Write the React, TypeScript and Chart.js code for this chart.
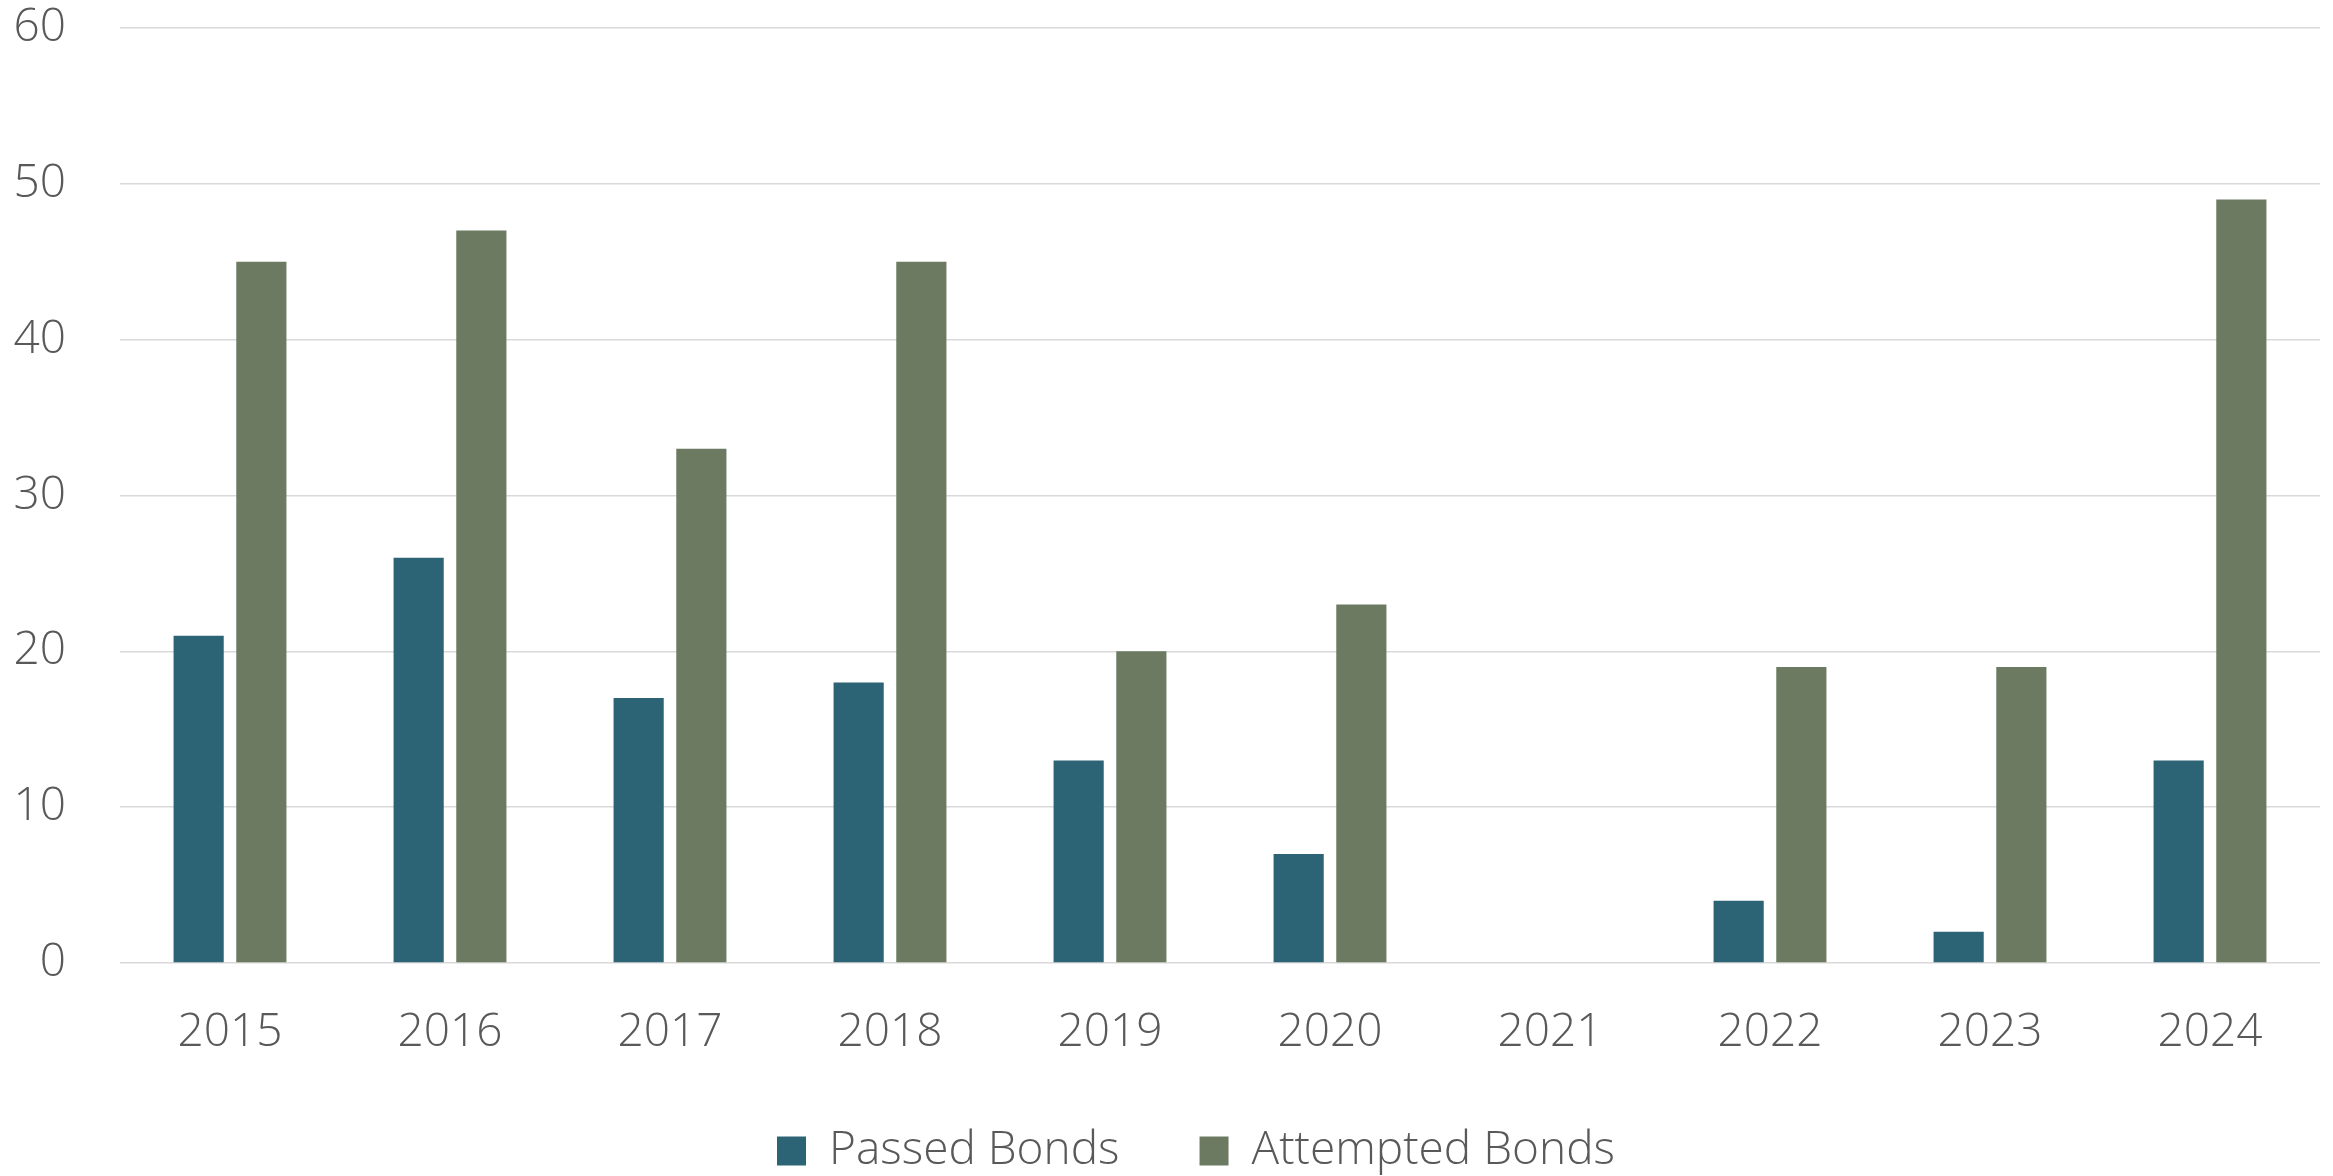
import React, { useEffect, useRef } from "react";
import { Chart, registerables } from "chart.js";

Chart.register(...registerables);

const categories = ["2015", "2016", "2017", "2018", "2019", "2020", "2021", "2022", "2023", "2024"];
const passedBonds = [21, 26, 17, 18, 13, 7, 0, 4, 2, 13];
const attemptedBonds = [45, 47, 33, 45, 20, 23, 0, 19, 19, 49];
const yTicks = [0, 10, 20, 30, 40, 50, 60];

const FONT = "'Open Sans', 'Noto Sans', sans-serif";
const TEXT_COLOR = "#595959";

const legendShift = {
  id: "legendShift",
  afterLayout(chart: any) {
    if (chart.legend) {
      chart.legend.left += 36;
      chart.legend.right += 36;
    }
  },
};

export default function App() {
  const ref = useRef<HTMLCanvasElement | null>(null);

  useEffect(() => {
    if (!ref.current) return;
    const chart = new Chart(ref.current, {
      type: "bar",
      data: {
        labels: categories,
        datasets: [
          {
            label: "Passed Bonds",
            data: passedBonds,
            backgroundColor: "#2C6476",
            borderWidth: 0,
            categoryPercentage: 0.57,
            barPercentage: 0.8,
          },
          {
            label: "Attempted Bonds",
            data: attemptedBonds,
            backgroundColor: "#6D7A62",
            borderWidth: 0,
            categoryPercentage: 0.57,
            barPercentage: 0.8,
          },
        ],
      },
      options: {
        responsive: false,
        animation: false,
        layout: { padding: { top: 28, right: 13, left: 0, bottom: -8 } },
        plugins: {
          tooltip: { enabled: false },
          legend: {
            position: "bottom",
            labels: {
              boxWidth: 29,
              boxHeight: 29,
              padding: 80,
              color: TEXT_COLOR,
              font: { family: FONT, size: 46, weight: 300 as any },
            },
          },
        },
        scales: {
          x: {
            grid: { display: false, drawTicks: false },
            border: { display: false },
            ticks: {
              color: TEXT_COLOR,
              padding: 42,
              font: { family: FONT, size: 46, weight: 300 as any },
            },
            afterFit: (s: any) => {
              s.height = 85;
              s.paddingLeft = 0;
              s.paddingRight = 0;
            },
          },
          y: {
            min: 0,
            max: 60,
            afterBuildTicks: (s: any) => {
              s.ticks = yTicks.map((v) => ({ value: v }));
            },
            grid: { color: "#D9D9D9", lineWidth: 1.5, drawTicks: false },
            border: { display: false },
            ticks: {
              color: TEXT_COLOR,
              padding: 54,
              font: { family: FONT, size: 46, weight: 300 as any },
            },
            afterFit: (s: any) => {
              s.width = 120;
              s.paddingTop = 0;
              s.paddingBottom = 0;
            },
          },
        },
      },
      plugins: [legendShift],
    });
    return () => chart.destroy();
  }, []);

  return (
    <div style={{ position: "fixed", left: 0, top: 0, width: 2333, height: 1176, background: "#fff" }}>
      <canvas ref={ref} width={2333} height={1176} style={{ display: "block" }} />
    </div>
  );
}
